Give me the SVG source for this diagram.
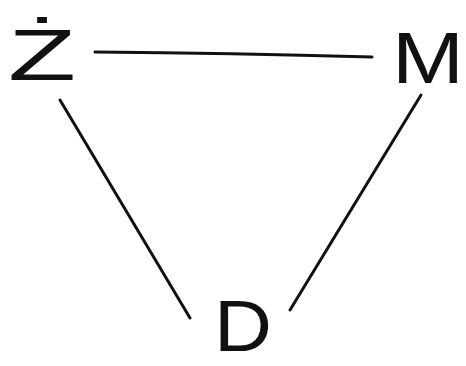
<svg xmlns="http://www.w3.org/2000/svg" width="466" height="366" viewBox="0 0 466 366">
<style>
.lbl{font-family:"Comic Sans MS","Liberation Sans",sans-serif;font-size:72px;fill:#111;}
.edge{stroke:#111;stroke-width:3;stroke-linecap:round;fill:none;}
</style>
<rect width="466" height="366" fill="#fff"/>
<g id="edges">
<path class="edge" d="M95,52 Q230,53 372,57"/>
<path class="edge" d="M60,100 L190,318"/>
<path class="edge" d="M421,95 L290,310"/>
</g>
<g id="node-Z"><text class="lbl" x="8" y="80" textLength="68" lengthAdjust="spacingAndGlyphs">Ż</text></g>
<g id="node-M"><text class="lbl" x="392" y="83" textLength="72" lengthAdjust="spacingAndGlyphs">M</text></g>
<g id="node-D"><text class="lbl" x="214" y="351" textLength="58" lengthAdjust="spacingAndGlyphs">D</text></g>
</svg>
